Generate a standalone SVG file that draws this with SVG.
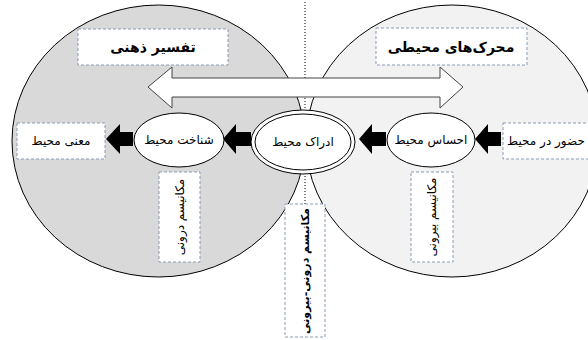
<svg xmlns="http://www.w3.org/2000/svg" width="588" height="340" viewBox="0 0 588 340">
<style>
.circ{stroke:#000;stroke-width:1}
.box{fill:#fff;stroke:#8a9bb3;stroke-width:1;stroke-dasharray:3 2}
.ell{fill:#fff;stroke:#000;stroke-width:1}
.blk{fill:#000}
.t{font-family:"DejaVu Sans",sans-serif;font-size:12px;fill:#000;text-anchor:middle}
.tb{font-family:"DejaVu Sans",sans-serif;font-size:14px;font-weight:bold;fill:#000;text-anchor:middle}
.tv{font-family:"DejaVu Sans",sans-serif;font-size:11px;font-weight:bold;fill:#000;text-anchor:middle}
</style>
<rect width="588" height="340" fill="#fff"/>
<g id="circles">
<ellipse class="circ" cx="158.5" cy="141" rx="146.5" ry="136" fill="#d9d9d9"/>
<ellipse class="circ" cx="452" cy="141" rx="146" ry="136" fill="#f2f2f2"/>
</g>
<g id="connectors">
<line x1="305" y1="2" x2="305" y2="204" stroke="#000" stroke-width="1" stroke-dasharray="1 2"/>
<path d="M148,87 L172,67 L172,78 L440,78 L440,67 L463,87 L440,108 L440,97 L172,97 L172,108 Z" fill="#fff" stroke="#444" stroke-width="1"/>
<path class="blk" d="M475,139 L488,124 L488,132 L501,132 L501,146 L488,146 L488,154 Z"/>
<path class="blk" d="M359,139 L372,124 L372,132 L386,132 L386,146 L372,146 L372,154 Z"/>
<path class="blk" d="M223,139 L236,124 L236,132 L251,132 L251,146 L236,146 L236,154 Z"/>
<path class="blk" d="M106,139 L120,124 L120,132 L133,132 L133,146 L120,146 L120,154 Z"/>
</g>
<g id="n-tafsir">
<rect class="box" x="78" y="29" width="150" height="36"/>
<text class="tb" x="153" y="52">تفسیر ذهنی</text>
</g>
<g id="n-moharek">
<rect class="box" x="376" y="28" width="151" height="37"/>
<text class="tb" x="451" y="52">محرک‌های محیطی</text>
</g>
<g id="n-mani">
<rect class="box" x="17" y="123" width="88" height="36"/>
<text class="t" x="61" y="145">معنی محیط</text>
</g>
<g id="n-shenakht">
<ellipse class="ell" cx="179" cy="140" rx="45" ry="27"/>
<text class="t" x="179" y="144">شناخت محیط</text>
</g>
<g id="n-edrak">
<ellipse class="ell" cx="303" cy="142" rx="52" ry="32"/>
<ellipse class="ell" cx="303" cy="142" rx="48" ry="28"/>
<text class="t" x="303" y="146">ادراک محیط</text>
</g>
<g id="n-ehsas">
<ellipse class="ell" cx="431" cy="140" rx="44" ry="27"/>
<text class="t" x="431" y="144">احساس محیط</text>
</g>
<g id="n-hozur">
<rect class="box" x="503" y="123" width="95" height="36"/>
<text class="t" x="546" y="145">حضور در محیط</text>
</g>
<g id="n-daruni">
<rect class="box" x="159" y="172" width="41" height="90"/>
<text class="t" transform="translate(184,217) rotate(-90)">مکانیسم درونی</text>
</g>
<g id="n-biruni">
<rect class="box" x="411" y="172" width="42" height="90"/>
<text class="t" transform="translate(436,217) rotate(-90)">مکانیسم بیرونی</text>
</g>
<g id="n-daruni-biruni">
<rect class="box" x="285" y="204" width="40" height="133"/>
<text class="tv" transform="translate(309,271) rotate(-90)">مکانیسم درونی-بیرونی</text>
</g>
</svg>
